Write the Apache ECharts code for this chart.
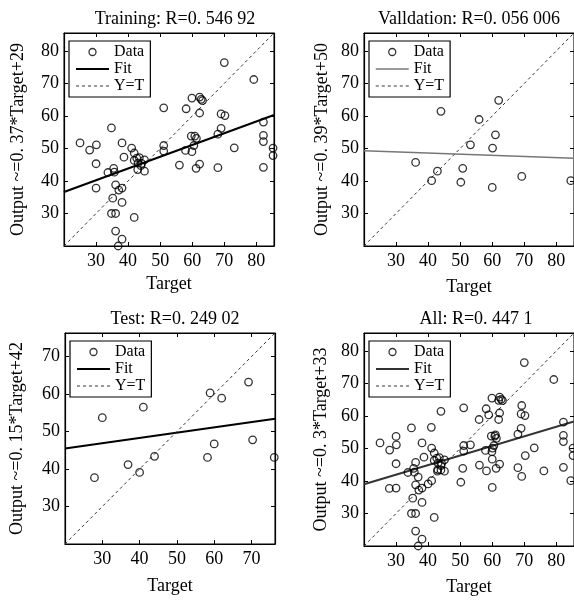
<!DOCTYPE html>
<html lang="en">
<head>
<meta charset="UTF-8">
<title>Regression</title>
<style>
    *{margin: 0; padding: 0;}
    html,body{width: 100%; height: 100%; background: #fff;}
    #chart{width: 574px; height: 601px;}
</style>
</head>
<body>
<div id="chart"></div>
<script src="https://cdn.jsdelivr.net/npm/echarts/dist/echarts.min.js"></script>
<script>
// training set
var trainTarget = [25,28,30.1,30,30,33.7,34.8,35.5,35.7,35.2,34.8,36.1,36.1,37.1,38.1,38.1,38.7,38.1,36.1,38.1,36.9,41.9,41.1,41.9,42.7,41.9,43.1,43.5,43,44.2,45.1,45.1,44,51.1,51.1,51.1,56,58.1,57.9,59.9,59.7,60.5,59.9,60.8,61.3,61.2,62.3,62.8,63.2,62.3,62.3,68,69,69,70.2,70,68,73.1,79.2,82.2,82.2,82.2,82.2,85.2,85.2];
var trainOutput = [51.7,49.5,51.1,45.3,37.8,42.6,56.3,43.9,42.7,34.7,30,30,38.8,37.2,37.8,51.7,47.3,33.4,24.6,22.1,20,28.8,50.1,48.6,47,46.3,45.5,47.2,43.5,45.4,46.5,43,44.7,62.5,50.9,49.2,44.9,62.2,49.4,65.5,53.8,50.9,49,53.8,53.1,43.9,65.8,65.1,64.7,60.9,45.2,54.4,56.2,60.6,60.1,76.4,44.1,50.2,71.2,58.1,54,52.1,44.2,50.1,47.8];
// validation set
var valTarget = [36.1,42.9,41.1,44,50.2,50.8,53.2,55.9,60.1,61,62,60,69.2,84.5];
var valOutput = [45.7,43,40.1,61.4,39.6,43.9,51.1,58.9,50.1,54.2,64.8,38,41.4,40.1];
// test set
var testTarget = [27.9,30,36.9,40,41,44,58.2,60,58.9,62,69.2,70.3,76.1];
var testOutput = [37.7,53.7,41.2,39.1,56.5,43.4,43.1,46.7,60.3,58.9,63.2,47.8,43.1];
// all = union of the three
var allTarget = trainTarget.concat(valTarget, testTarget);
var allOutput = trainOutput.concat(valOutput, testOutput);

// fit line end points [x, y]
var trainFit = [[20, 36.6], [85.5, 60.3]];
var valFit = [[20, 49.3], [85.5, 47]];
var testFit = [[20, 45.5], [76.3, 53.4]];
var allFit = [[20, 39], [85.5, 58.3]];

// axis limits
var trainLim = [20, 85.5];
var valLim = [20, 85.5];
var testLim = [20, 76.3];
var allLim = [20, 85.5];

var titles = ['Training: R=0. 546 92', 'Valldation: R=0. 056 006', 'Test: R=0. 249 02', 'All: R=0. 447 1'];
var yNames = ['Output ~=0. 37*Target+29', 'Output ~=0. 39*Target+50', 'Output ~=0. 15*Target+42', 'Output ~=0. 3*Target+33'];

var FONT = "'Liberation Serif', 'Times New Roman', serif";
var CLEAR = 'rgba(0,0,0,0)';

var panels = [
    {t: trainTarget, o: trainOutput, fit: trainFit, lim: trainLim, fitColor: '#000', fitW: 2,
     grid: {left: 64, top: 33, width: 210, height: 213}, titleX: 170, titleY: 5, xGap: 29, yGap: 37},
    {t: valTarget, o: valOutput, fit: valFit, lim: valLim, fitColor: '#777', fitW: 1.5,
     grid: {left: 364, top: 33, width: 212, height: 213}, titleX: 464, titleY: 5, xGap: 32, yGap: 33},
    {t: testTarget, o: testOutput, fit: testFit, lim: testLim, fitColor: '#000', fitW: 2,
     grid: {left: 65, top: 333, width: 210, height: 211}, titleX: 170, titleY: 305, xGap: 33, yGap: 39},
    {t: allTarget, o: allOutput, fit: allFit, lim: allLim, fitColor: '#333', fitW: 2,
     grid: {left: 364, top: 333, width: 212, height: 213}, titleX: 471, titleY: 305, xGap: 32, yGap: 34}
];

var grids = [], xAxes = [], yAxes = [], series = [], legends = [], titleList = [];

panels.forEach(function (p, i) {
    var g = p.grid;
    grids.push({left: g.left, top: g.top, width: g.width, height: g.height,
        show: true, borderColor: '#000', borderWidth: 1, backgroundColor: '#fff'});

    titleList.push({text: titles[i], left: p.titleX, top: p.titleY, textAlign: 'center',
        textStyle: {fontFamily: FONT, fontSize: 18, fontWeight: 'normal', color: '#000'}});

    var tick = {show: true, inside: true, length: 4, lineStyle: {color: '#000', width: 1}};
    var line = {show: true, lineStyle: {color: '#000', width: 1.2}};
    var label = {color: '#000', fontFamily: FONT, fontSize: 18, showMinLabel: false, showMaxLabel: false};

    xAxes.push({gridIndex: i, type: 'value', min: p.lim[0], max: p.lim[1], interval: 10,
        name: 'Target', nameLocation: 'middle', nameGap: p.xGap,
        nameTextStyle: {fontFamily: FONT, fontSize: 18, color: '#000'},
        axisLine: line, axisTick: tick, splitLine: {show: false},
        axisLabel: Object.assign({margin: 6}, label)});
    xAxes.push({gridIndex: i, type: 'value', position: 'top', min: p.lim[0], max: p.lim[1], interval: 10,
        axisLine: line, axisTick: tick, splitLine: {show: false}, axisLabel: {show: false}});

    yAxes.push({gridIndex: i, type: 'value', min: p.lim[0], max: p.lim[1], interval: 10,
        name: yNames[i], nameLocation: 'middle', nameGap: p.yGap, nameRotate: 90,
        nameTextStyle: {fontFamily: FONT, fontSize: 18, color: '#000'},
        axisLine: line, axisTick: tick, splitLine: {show: false},
        axisLabel: Object.assign({margin: 5}, label)});
    yAxes.push({gridIndex: i, type: 'value', position: 'right', min: p.lim[0], max: p.lim[1], interval: 10,
        axisLine: line, axisTick: tick, splitLine: {show: false}, axisLabel: {show: false}});

    var pts = p.t.map(function (v, k) { return [v, p.o[k]]; });
    var suffix = '#' + i;

    series.push({name: 'Data' + suffix, type: 'scatter', xAxisIndex: 2 * i, yAxisIndex: 2 * i,
        symbol: 'circle', symbolSize: 7.5, data: pts, z: 3,
        itemStyle: {color: CLEAR, borderColor: '#000', borderWidth: 1.3}});
    series.push({name: 'Fit' + suffix, type: 'line', xAxisIndex: 2 * i, yAxisIndex: 2 * i,
        symbol: 'none', data: p.fit, z: 2, itemStyle: {color: CLEAR},
        lineStyle: {color: p.fitColor, width: p.fitW}});
    series.push({name: 'Y=T' + suffix, type: 'line', xAxisIndex: 2 * i, yAxisIndex: 2 * i,
        symbol: 'none', data: [[p.lim[0], p.lim[0]], [p.lim[1], p.lim[1]]], z: 2, itemStyle: {color: CLEAR},
        lineStyle: {color: '#333', width: 1, type: [3, 3]}});

    legends.push({
        left: g.left + 5, top: g.top + 8, orient: 'vertical', selectedMode: false,
        padding: [3, 6, 3, 6], itemGap: 1, itemWidth: 33, itemHeight: 7,
        borderColor: '#000', borderWidth: 1.2, backgroundColor: '#fff',
        textStyle: {fontFamily: FONT, fontSize: 16, lineHeight: 14, color: '#000'},
        formatter: function (name) { return name.split('#')[0]; },
        data: [
            {name: 'Data' + suffix, icon: 'circle',
             itemStyle: {color: CLEAR, borderColor: '#000', borderWidth: 1.3}},
            {name: 'Fit' + suffix, itemStyle: {color: CLEAR, borderWidth: 0},
             lineStyle: {color: p.fitColor, width: p.fitW}},
            {name: 'Y=T' + suffix, itemStyle: {color: CLEAR, borderWidth: 0},
             lineStyle: {color: '#333', width: 1, type: [3, 3]}}
        ]
    });
});

var myChart = echarts.init(document.getElementById('chart'));
myChart.setOption({
    animation: false,
    backgroundColor: '#fff',
    title: titleList,
    grid: grids,
    xAxis: xAxes,
    yAxis: yAxes,
    legend: legends,
    series: series
});
</script>
</body>
</html>
